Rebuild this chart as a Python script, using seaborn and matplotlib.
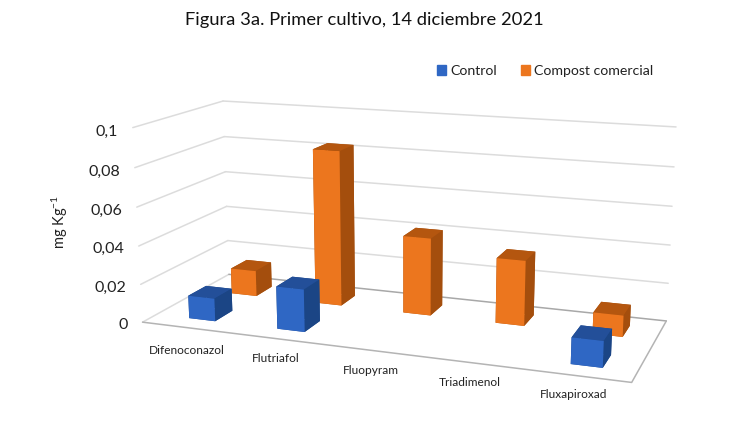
import matplotlib
matplotlib.use("Agg")
import matplotlib.pyplot as plt
from matplotlib.patches import Patch
import seaborn as sns

categories = ["Difenoconazol", "Flutriafol", "Fluopyram", "Triadimenol", "Fluxapiroxad"]
control = [0.012, 0.022, 0, 0, 0.013]
compost = [0.014, 0.083, 0.041, 0.034, 0.011]
z_ticks = [0, 0.02, 0.04, 0.06, 0.08, 0.1]
z_labels = ["0", "0,02", "0,04", "0,06", "0,08", "0,1"]

sns.set_theme(style="white")
plt.rcParams["font.family"] = ["Lato", "DejaVu Sans"]
plt.rcParams["mathtext.default"] = "regular"

BLUE = ["#234f99", "#234f99", "#2f67c4", "#1b4585", "#1b4585", "#1b4585"]
ORANGE = ["#b4560f", "#b4560f", "#ec761e", "#a44e0d", "#a44e0d", "#a44e0d"]
TEXT = "#222222"
GRID = "#dcdcdc"

fig = plt.figure(figsize=(7.5, 4.22), dpi=100)
W, H = 750, 422
size = 800
ax = fig.add_axes([-6 / W, -215 / H, size / W, size / H], projection="3d", computed_zorder=False)
zoom = 553 / size
ax.set_box_aspect((489, 184, 196), zoom=zoom)
ax.view_init(elev=13.9, azim=-69.8)
ax.set_proj_type("persp", focal_length=0.304)
ax.set_xlim(0, 5)
ax.set_ylim(0, 2)
ax.set_zlim(0, 0.1)
ax.set_xticks([])
ax.set_yticks([])
ax.set_zticks([])
ax.set_axis_off()

# walls
for z in z_ticks:
    color = "#a8a8a8" if z == 0 else GRID
    ax.plot([0, 0], [0, 2], [z, z], color=GRID, lw=1.1, zorder=0)
    ax.plot([0, 5], [2, 2], [z, z], color=color, lw=1.1, zorder=0)
# floor outline
ax.plot([0, 5, 5], [0, 0, 2], [0, 0, 0], color="#b4b4b4", lw=1.1, zorder=0)

# back row first so the front row paints over it
for row, values, colors in [(1, compost, ORANGE), (0, control, BLUE)]:
    for i, v in enumerate(values):
        if v > 0:
            ax.bar3d(i + 0.38, row + 0.3, 0, 0.3, 0.4, v, color=colors, shade=False, linewidth=0)

# tick labels sit left of the front wall edge
for z, lab in zip(z_ticks, z_labels):
    ax.text(-0.17, 0, z - 0.0025, lab, ha="right", va="center", fontsize=11.5, color=TEXT)

label_px = [(187, 350), (276, 358), (371, 370), (470, 383), (574, 395)]
for cat, (px, py) in zip(categories, label_px):
    fig.text(px / W, 1 - py / H, cat, ha="center", va="center", fontsize=8.6, color=TEXT)

fig.text(60 / W, 1 - 222 / H, "mg Kg$^{-1}$", rotation=90, ha="center", va="center", fontsize=10.5, color=TEXT)
fig.text(364 / W, 1 - 20 / H, "Figura 3a. Primer cultivo, 14 diciembre 2021",
         ha="center", va="center", fontsize=13.2, color="#111111")
fig.legend(handles=[Patch(color=BLUE[2], label="Control"), Patch(color=ORANGE[2], label="Compost comercial")],
           loc="center", bbox_to_anchor=(545 / W, 1 - 71 / H), ncol=2, frameon=False,
           fontsize=10.2, handlelength=0.65, handleheight=0.65, handletextpad=0.25, columnspacing=1.7,
           labelcolor=TEXT)

fig.savefig("out.png", dpi=100)
